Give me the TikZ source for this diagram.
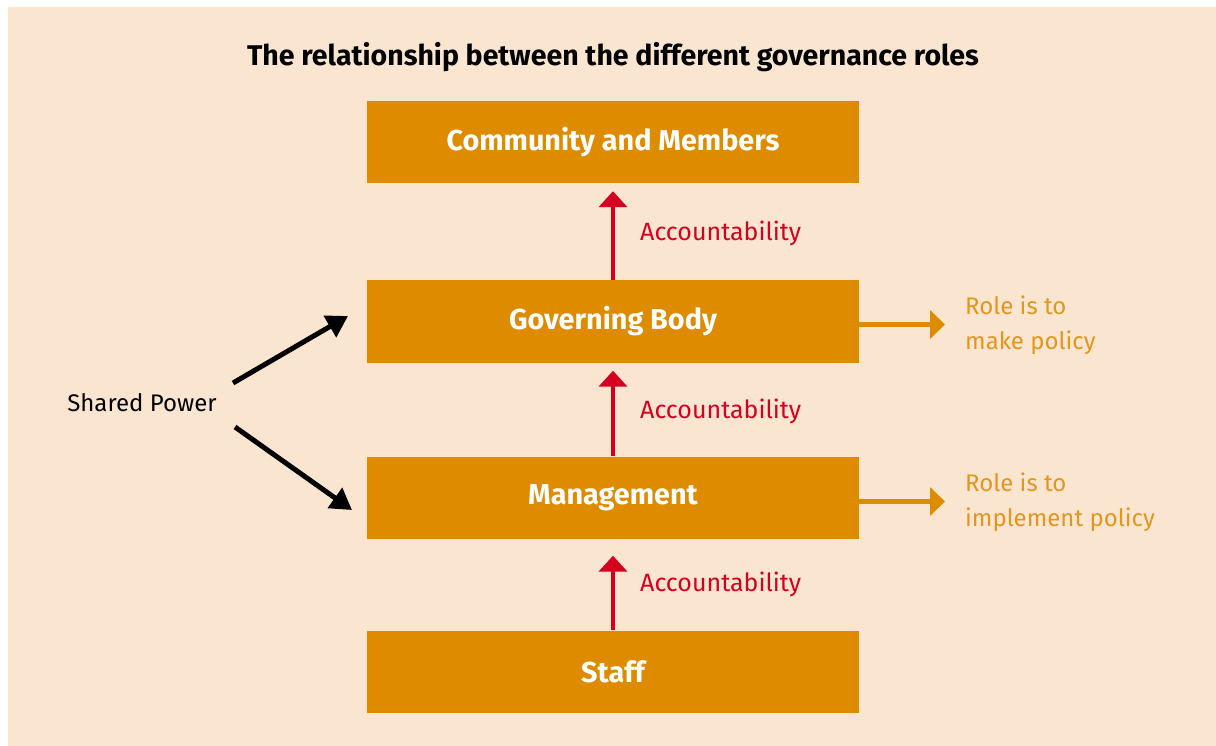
\documentclass[tikz,border=0pt]{standalone}
\usepackage{fontspec}
\setmainfont{Fira Sans}
\usetikzlibrary{arrows.meta,positioning}
\definecolor{peach}{RGB}{250,230,208}
\definecolor{boxorange}{RGB}{222,139,0}
\definecolor{rolecol}{RGB}{226,150,32}
\definecolor{accred}{RGB}{213,0,32}

\begin{document}
\begin{tikzpicture}[x=1pt,y=-1pt]

    \tikzset{
      govbox/.style={
        fill=boxorange,
        text=white,
        minimum width=492pt,
        minimum height=82pt,
        inner sep=0pt,
        font=\fontsize{28.8}{32}\selectfont\bfseries,
      },
      upline/.style={accred,line width=4pt,-{Triangle[length=16pt,width=28pt]}},
      policyline/.style={boxorange,line width=4.5pt,-{Triangle[length=15pt,width=28pt]}},
      powerline/.style={black,line width=5pt,-{Triangle[length=21pt,width=24pt]}},
      acclabel/.style={anchor=west,inner sep=0pt,text=accred,font=\fontsize{25}{29}\selectfont},
      rolelabel/.style={anchor=west,inner sep=0pt,text=rolecol,align=left,font=\fontsize{24}{35}\selectfont},
    }
    \fill[white] (0,0) rectangle (1216,746);
    \fill[peach] (8,7) rectangle (1216,746);
    \useasboundingbox (0,0) rectangle (1216,746);

    \node[font=\fontsize{28.5}{32}\selectfont\bfseries] (title) at (613,57) {The relationship between the different governance roles};

    % the four levels
    \node[govbox] (comm) at (613,142) {Community and Members};
    \node[govbox] (gov) at (613,321.5) {Governing Body};
    \node[govbox] (mgmt) at (613,497.5) {Management};
    \node[govbox] (staff) at (613,671.5) {Staff};

    % accountability upwards
    \draw[upline,shorten >=8pt] (gov) -- (comm);
    \draw[upline,shorten >=8pt] (mgmt) -- (gov);
    \draw[upline,shorten >=17pt] (staff) -- (mgmt);
    \node[acclabel] (acc1) at (640,233) {Accountability};
    \node[acclabel] (acc2) at (640,411) {Accountability};
    \node[acclabel] (acc3) at (640,584) {Accountability};

    % roles
    \node[rolelabel] (govrole) at (965,325) {Role is to\\make policy};
    \node[rolelabel] (mgmtrole) at (965,502) {Role is to\\implement policy};
    \draw[policyline,shorten >=20pt] ([yshift=-3pt]gov.east) -- ([yshift=-3pt]gov.east -| govrole.west);
    \draw[policyline,shorten >=20pt] ([yshift=-4pt]mgmt.east) -- ([yshift=-4pt]mgmt.east -| mgmtrole.west);

    % shared power
    \node[font=\fontsize{24}{28}\selectfont] (shared) at (142,403) {Shared Power};
    \coordinate (sp1) at (233,383);
    \coordinate (sp2) at (235,427);
    \coordinate (gp) at (348,316);
    \coordinate (mp) at (352,510);
    \draw[powerline] (sp1) -- (gp);
    \draw[powerline] (sp2) -- (mp);

\end{tikzpicture}
\end{document}
